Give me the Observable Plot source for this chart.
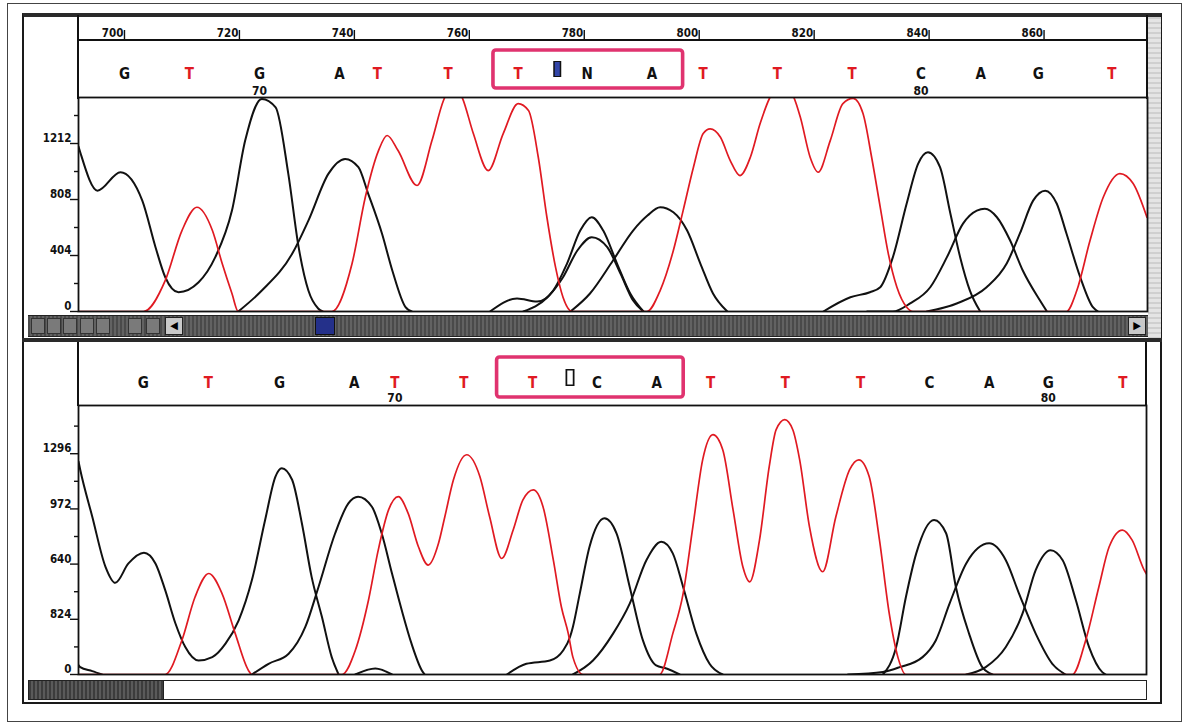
<!DOCTYPE html>
<html><head><meta charset="utf-8">
<script src="https://cdn.jsdelivr.net/npm/d3@7"></script>
<script src="https://cdn.jsdelivr.net/npm/@observablehq/plot@0.6"></script>
<style>
body{margin:0;background:#fff;}
#wrap{position:relative;width:1190px;height:726px;overflow:hidden;background:#fff;font-family:"DejaVu Sans Condensed","DejaVu Sans",sans-serif;}
.a{position:absolute;box-sizing:border-box;}
.plot{position:absolute;}
</style></head><body><div id="wrap"></div>
<script>
// ---------- data ----------
const scanTicks = [700,720,740,760,780,800,820,840,860];
const topYTicks = [0,404,808,1212];
const topYLabels = ["0","404","808","1212"];
const topYMinor = [202,606,1010,1414];
const bottomYTicks = [0,324,648,972,1296];
const bottomYLabels = ["0","824","640","972","1296"];
const bottomYMinor = [162,486,810,1134,1458];

const topBases   = ["G","T","G","A","T","T","T","N","A","T","T","T","C","A","G","T"];
const topBasePos = [700.0,711.3,723.5,737.4,744.0,756.3,768.5,780.5,791.8,800.7,813.6,826.6,838.6,849.0,859.0,871.8];
const topNumLabels = ["70","80"];
const topNumPos = [723.5,838.6];
const topBox = [764.2,797.2];
const topCursor = 775.3;

const bottomBases   = ["G","T","G","A","T","T","T","C","A","T","T","T","C","A","G","T"];
const bottomBasePos = [703.3,714.6,727.0,740.0,747.1,759.1,771.1,782.3,792.7,802.1,815.1,828.2,840.2,850.6,860.9,873.9];
const bottomNumLabels = ["70","80"];
const bottomNumPos = [747.1,860.9];
const bottomBox = [764.9,797.4];
const bottomCursor = 777.6;

// top traces [scan, intensity]
const topRed = [[692,0],[703.3,0],[707.1,224],[710.0,584],[712.6,752],[715.3,584],[717.0,346],[718.7,130],[719.8,0],[736.1,0],[739.6,346],[741.9,824],[744.2,1161],[745.7,1270],[747.6,1161],[750.9,909],[753.5,1233],[755.5,1522],[757.2,1640],[758.8,1540],[760.7,1284],[763.3,1017],[765.9,1284],[768.5,1500],[770.3,1450],[772.0,1113],[773.5,680],[775.0,320],[776.3,103],[777.9,0],[790.9,0],[793.2,151],[795.5,440],[797.2,728],[799.0,1041],[800.7,1284],[801.9,1318],[803.7,1257],[805.4,1089],[807.1,981],[808.9,1113],[810.6,1356],[812.3,1544],[814.3,1640],[816.3,1560],[817.6,1401],[819.3,1113],[820.7,1005],[822.8,1233],[825.0,1500],[826.8,1537],[828.5,1428],[830.0,1113],[831.5,752],[832.9,418],[834.4,175],[836.1,31],[837.2,0],[863.9,0],[865.7,151],[868.0,512],[870.3,824],[873.2,995],[875.5,923],[877.9,680]];
const topG1 = [[692,1190],[692.3,1149],[695.3,872],[699.3,1005],[703.1,800],[705.4,464],[707.1,247],[709.4,139],[712.9,211],[715.8,392],[718.7,728],[721.0,1233],[723.9,1534],[726.3,1473],[728.5,995],[730.3,464],[732.0,151],[733.7,22],[734.5,0]];
const topA1 = [[719.8,0],[723.9,151],[729.2,418],[732.0,656],[735.5,995],[738.4,1101],[740.7,1041],[742.4,851],[744.8,563],[746.6,296],[748.9,31],[750.0,0]];
const topN1 = [[763.6,0],[768.3,94],[771.8,72],[774.6,151],[777.0,346],[779.3,584],[781.3,680],[783.3,584],[785.7,346],[788.0,130],[790.3,0]];
const topN2 = [[769.4,0],[773.6,103],[776.3,247],[778.8,440],[781.3,536],[784.0,464],[786.3,274],[788.5,79],[790.3,0]];
const topA2 = [[777.6,0],[781.0,130],[785.0,368],[788.5,584],[791.0,692],[793.2,752],[795.5,716],[797.9,584],[800.2,346],[802.4,130],[804.9,0]];
const topC1 = [[821.6,0],[826.3,103],[829.7,139],[831.5,175],[833.7,392],[836.1,779],[838.1,1067],[839.8,1149],[841.9,1041],[843.7,707],[845.4,392],[847.1,151],[848.9,0]];
const topA3 = [[829.2,0],[833.7,0],[836.7,58],[840.2,175],[843.1,392],[845.9,634],[848.3,728],[849.7,741],[851.8,680],[854.1,512],[856.3,296],[859.3,79],[860.5,0]];
const topG2 = [[839.6,0],[844.8,58],[850.0,175],[853.5,346],[855.8,563],[858.1,800],[860.2,872],[862.2,779],[863.9,563],[866.3,247],[868.5,31],[869.4,0]];

// bottom traces
const bottomRed = [[692,0],[707.1,0],[710.0,200],[712.3,455],[714.7,593],[717.0,475],[719.3,240],[721.6,24],[722.2,0],[737.9,0],[740.2,141],[742.5,436],[744.2,730],[746.0,966],[747.7,1044],[749.4,947],[751.2,750],[752.9,642],[754.7,770],[755.8,926],[757.3,1143],[759.6,1290],[761.9,1162],[763.6,926],[765.7,681],[767.7,848],[769.4,1025],[771.2,1084],[772.9,985],[774.7,671],[776.1,396],[777.3,240],[778.1,102],[779.9,0],[793.2,0],[795.5,240],[797.3,475],[799.0,868],[800.7,1260],[802.5,1408],[804.2,1319],[806.0,966],[807.7,632],[808.9,544],[810.6,789],[812.3,1221],[813.5,1437],[815.0,1496],[816.4,1437],[817.6,1260],[819.3,868],[821.6,603],[823.9,926],[826.3,1202],[827.9,1260],[829.7,1162],[831.5,789],[833.2,357],[834.7,102],[836.1,0],[865.1,0],[867.4,200],[869.7,514],[871.5,750],[873.8,848],[875.5,789],[877.6,613],[878,590]];
const bottomG1 = [[692,1250],[692.3,1202],[694.4,926],[696.7,632],[698.4,538],[700.7,652],[703.4,715],[705.4,652],[707.1,495],[708.9,298],[710.6,161],[712.9,82],[715.3,102],[717.6,181],[719.9,318],[722.2,554],[724.5,907],[726.3,1162],[727.4,1211],[729.2,1143],[730.9,888],[732.6,573],[734.4,337],[736.1,102],[737.3,0]];
const bottomS1 = [[692,55],[692.3,43],[694.4,20],[696.1,0]];
const bottomA1 = [[722.2,0],[725.1,63],[728.6,122],[731.5,279],[733.8,514],[736.7,829],[739.0,1005],[740.7,1044],[743.1,985],[744.8,829],[746.6,593],[748.3,377],[750.0,181],[751.8,24],[752.3,0]];
const bottomS2 = [[740.2,0],[743.7,35],[746.6,0]];
const bottomC1 = [[766.6,0],[770.0,63],[774.1,82],[776.4,141],[777.6,220],[778.1,279],[779.3,475],[781.0,750],[783.6,917],[785.7,829],[788.0,514],[790.3,200],[792.6,53],[794.4,35],[796.7,0]];
const bottomA2 = [[778.1,0],[781.6,82],[785.1,240],[788.0,416],[790.9,671],[793.5,779],[795.5,711],[797.3,514],[799.6,240],[801.9,63],[804.2,0]];
const bottomC2 = [[832.1,0],[834.4,161],[836.1,455],[837.9,711],[841.0,907],[843.1,829],[844.8,514],[847.1,240],[849.4,43],[851.2,0]];
const bottomA3 = [[826,0],[832.1,15],[835.0,43],[839.0,102],[841.3,200],[843.7,416],[846.6,652],[850.6,770],[853.5,671],[855.8,475],[858.7,240],[861.6,63],[863.9,0]];
const bottomG2 = [[846.6,0],[850.0,43],[853.5,161],[856.4,357],[858.7,613],[861.3,730],[863.4,671],[865.7,436],[868.0,161],[870.3,14],[870.9,0]];

// ---------- drawing ----------
const RED = "#e01a22", INK = "#111", PINK = "#e0336f";
const FONT = "DejaVu Sans Condensed, DejaVu Sans, sans-serif";
const wrap = document.getElementById("wrap");

function panel(cfg) {
  const {width, height, mt, mb, ml, mr, yMax} = cfg;
  const frameH = height - mt - mb, frameW = width - ml - mr;
  const rows = cfg.traces.flatMap(t => t.pts.map(([x, y]) => ({name: t.name, red: t.red, x, y})));
  const bases = cfg.bases.map((b, i) => ({b, x: cfg.basePos[i]}));
  const nums = cfg.nums.map((n, i) => ({n, x: cfg.numPos[i]}));
  const marks = [
    Plot.line(rows.filter(d => !d.red), {x: "x", y: "y", z: "name", stroke: INK, strokeWidth: 2, curve: "monotone-x", clip: true}),
    Plot.line(rows.filter(d => d.red), {x: "x", y: "y", z: "name", stroke: RED, strokeWidth: 1.7, curve: "monotone-x", clip: true}),
    Plot.frame({stroke: INK, strokeWidth: 1.8}),
    Plot.ruleY(cfg.yTicks, {y: d => d, insetLeft: -8, insetRight: frameW, stroke: INK, strokeWidth: 1.4}),
    Plot.ruleY(cfg.yMinor, {y: d => d, insetLeft: -4, insetRight: frameW, stroke: INK, strokeWidth: 1.4}),
    Plot.text(cfg.yTicks, {y: d => d, text: (d, i) => cfg.yLabels[i], frameAnchor: "left", textAnchor: "end", dx: -7, dy: -5, fontSize: 11.5, fontWeight: "bold", fill: INK}),
    Plot.text(bases, {x: "x", text: "b", frameAnchor: "top", dy: cfg.baseDy, fontSize: 15, fontWeight: "bold", fill: d => d.b === "T" ? RED : INK}),
    Plot.text(nums, {x: "x", text: "n", frameAnchor: "top", dy: cfg.numDy, fontSize: 12, fontWeight: "bold", fill: INK}),
    Plot.rect([cfg.box], {x1: d => d[0], x2: d => d[1], insetTop: cfg.boxTop, insetBottom: frameH + cfg.boxBottom, stroke: PINK, strokeWidth: 3.6, fill: "none", rx: 3})
  ];
  if (cfg.cursorFilled) {
    marks.push(Plot.ruleX([cfg.cursor], {x: d => d, stroke: INK, strokeWidth: 8, insetTop: -36, insetBottom: frameH + 20}));
    marks.push(Plot.ruleX([cfg.cursor], {x: d => d, stroke: "#3346a8", strokeWidth: 5, insetTop: -35, insetBottom: frameH + 21}));
  } else {
    marks.push(Plot.ruleX([cfg.cursor], {x: d => d, stroke: INK, strokeWidth: 9, insetTop: -36, insetBottom: frameH + 19}));
    marks.push(Plot.ruleX([cfg.cursor], {x: d => d, stroke: "#fff", strokeWidth: 5.5, insetTop: -34.5, insetBottom: frameH + 20.5}));
  }
  if (cfg.ruler) {
    marks.push(Plot.ruleX(scanTicks, {x: d => d, stroke: INK, strokeWidth: 1.4, insetTop: -67, insetBottom: frameH + 57}));
    marks.push(Plot.text(scanTicks, {x: d => d, text: d => String(d), frameAnchor: "top", textAnchor: "end", dx: -1, dy: -69, fontSize: 11.5, fontWeight: "bold", fill: INK}));
  }
  const svg = Plot.plot({
    width, height, marginTop: mt, marginBottom: mb, marginLeft: ml, marginRight: mr,
    x: {domain: [692, 878], axis: null},
    y: {domain: [0, yMax], axis: null},
    style: {background: "transparent", overflow: "visible", fontFamily: FONT},
    marks
  });
  svg.classList.add("plot");
  svg.style.left = cfg.left + "px";
  svg.style.top = cfg.top + "px";
  return svg;
}

function box(l, t, w, h, css) {
  const d = document.createElement("div");
  d.className = "a";
  Object.assign(d.style, {left: l + "px", top: t + "px", width: w + "px", height: h + "px"}, css || {});
  wrap.appendChild(d);
  return d;
}

// outer frames
box(7, 3, 1175, 719, {border: "1.5px solid #444"});
box(22, 13, 1140, 691, {border: "2px solid #1a1a1a", borderTop: "4px solid #2a2a2a"});
// right grey strip of the upper window
box(1148, 17, 13, 322, {background: "repeating-linear-gradient(0deg,#cfcfcf 0 2px,#e4e4e4 2px 5px)"});
// upper panel guide lines
box(78, 39, 1070, 2, {background: INK});
box(77, 15, 2, 84, {background: INK});
box(1146, 15, 2, 84, {background: INK});
// upper scrollbar
box(28, 315, 1120, 22, {background: "repeating-linear-gradient(90deg,#4a4a4a 0 2px,#626262 2px 4px)", borderTop: "1px solid #222", borderBottom: "1px solid #222"});
[[31,14],[47,14],[63,14],[80,14],[96,14],[128,14],[146,14]].forEach(([l, w]) => box(l, 318, w, 16, {background: "#7a7a7a", border: "1px solid #333"}));
const la = box(165, 317, 18, 18, {background: "#c9c9c9", border: "1px solid #222", color: "#000", fontSize: "11px", lineHeight: "16px", textAlign: "center"});
la.textContent = "◀";
box(315, 317, 20, 18, {background: "#24308a", border: "1px solid #111"});
const ra = box(1128, 317, 18, 18, {background: "#c9c9c9", border: "1px solid #222", color: "#000", fontSize: "11px", lineHeight: "16px", textAlign: "center"});
ra.textContent = "▶";
// separator between windows
box(22, 338, 1140, 4, {background: "#2a2a2a"});
// lower panel guide lines
box(77, 342, 2, 64, {background: INK});
box(1145, 342, 2, 64, {background: INK});
// lower scrollbar
box(28, 680, 136, 20, {background: "repeating-linear-gradient(90deg,#3c3c3c 0 2px,#5a5a5a 2px 4px)", border: "1px solid #222"});
box(163, 680, 984, 20, {background: "#fff", border: "1.5px solid #222"});

wrap.appendChild(panel({
  left: 22, top: 14, width: 1126, height: 300, mt: 83, mb: 3, ml: 56, mr: 1, yMax: 1544,
  traces: [
    {name: "T", red: true, pts: topRed},
    {name: "G1", pts: topG1}, {name: "A1", pts: topA1}, {name: "N1", pts: topN1}, {name: "N2", pts: topN2},
    {name: "A2", pts: topA2}, {name: "C1", pts: topC1}, {name: "A3", pts: topA3}, {name: "G2", pts: topG2}
  ],
  bases: topBases, basePos: topBasePos, nums: topNumLabels, numPos: topNumPos,
  baseDy: -29, numDy: -11, box: topBox, boxTop: -47, boxBottom: 9,
  cursor: topCursor, cursorFilled: true,
  yTicks: topYTicks, yLabels: topYLabels, yMinor: topYMinor, ruler: true
}));

wrap.appendChild(panel({
  left: 22, top: 340, width: 1125, height: 337, mt: 65, mb: 3, ml: 56, mr: 1, yMax: 1579,
  traces: [
    {name: "T", red: true, pts: bottomRed},
    {name: "G1", pts: bottomG1}, {name: "S1", pts: bottomS1}, {name: "A1", pts: bottomA1}, {name: "S2", pts: bottomS2},
    {name: "C1", pts: bottomC1}, {name: "A2", pts: bottomA2}, {name: "C2", pts: bottomC2}, {name: "A3", pts: bottomA3}, {name: "G2", pts: bottomG2}
  ],
  bases: bottomBases, basePos: bottomBasePos, nums: bottomNumLabels, numPos: bottomNumPos,
  baseDy: -28, numDy: -12, box: bottomBox, boxTop: -48, boxBottom: 8,
  cursor: bottomCursor, cursorFilled: false,
  yTicks: bottomYTicks, yLabels: bottomYLabels, yMinor: bottomYMinor, ruler: false
}));
</script></body></html>
